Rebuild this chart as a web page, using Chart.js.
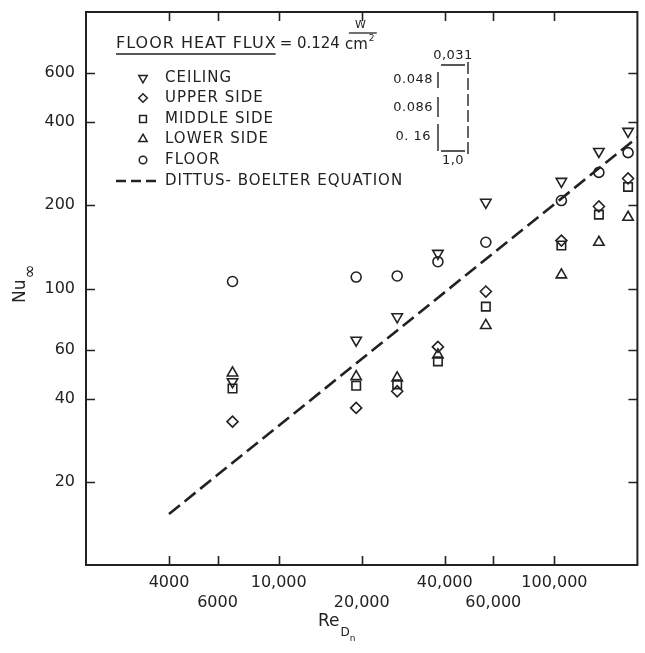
<!DOCTYPE html>
<html>
<head>
<meta charset="utf-8">
<script src="https://cdn.jsdelivr.net/npm/chart.js@4"></script>
<style>
  html, body { margin: 0; padding: 0; background: #ffffff; }
  #wrap { width: 645px; height: 653px; }
</style>
</head>
<body>
<div id="wrap"><canvas id="c" width="645" height="653"></canvas></div>
<script>
// ---- data ----
const reynolds = [6800, 19100, 26900, 37800, 56400, 106000, 145000, 185000];
const ceiling  = [46, 65, 79, 134, 205, 244, 313, 370];
const upperSide = [33, 37, 42.5, 61.5, 97.5, 149, 198, 250];
const middleSide = [43.5, 44.5, 45, 54.5, 86, 143, 185, 233];
const lowerSide = [49.5, 48, 47.5, 57.5, 73.5, 112, 147, 181];
const floorVals = [106, 110, 111, 125, 147, 208, 263, 310];
const dittusRe = [4000, 200000];
const dittusNu = [15.3, 352];

const xTicks = [4000, 6000, 10000, 20000, 40000, 60000, 100000];
const xTickLabels = ['4000', '6000', '10,000', '20,000', '40,000', '60,000', '100,000'];
const yTicks = [20, 40, 60, 100, 200, 400, 600];
const yTickLabels = ['20', '40', '60', '100', '200', '400', '600'];

const legendNames = ['CEILING', 'UPPER SIDE', 'MIDDLE SIDE', 'LOWER SIDE', 'FLOOR'];
const heatFluxTitle = 'FLOOR HEAT FLUX';
const heatFluxValue = '= 0.124';
const ratioLabels = ['0,031', '0.048', '0.086', '0. 16', '1,0'];

const INK = '#222';
const FONT = '"DejaVu Sans", "Liberation Sans", sans-serif';

function pts(ys) { return reynolds.map((r, i) => ({ x: r, y: ys[i] })); }

const styles = [
  { pointStyle: 'triangle', rotation: 180, radius: 6 },
  { pointStyle: 'rectRot', rotation: 0, radius: 5.5 },
  { pointStyle: 'rect', rotation: 0, radius: 6 },
  { pointStyle: 'triangle', rotation: 0, radius: 6 },
  { pointStyle: 'circle', rotation: 0, radius: 5 }
];
const seriesVals = [ceiling, upperSide, middleSide, lowerSide, floorVals];

const datasets = seriesVals.map((vals, i) => ({
  type: 'scatter',
  label: legendNames[i],
  data: pts(vals),
  pointStyle: styles[i].pointStyle,
  rotation: styles[i].rotation,
  pointRadius: styles[i].radius,
  pointBorderColor: INK,
  pointBackgroundColor: 'rgba(0,0,0,0)',
  pointBorderWidth: 1.6,
  showLine: false
}));
datasets.push({
  type: 'line',
  label: 'DITTUS-BOELTER EQUATION',
  data: dittusRe.map((r, i) => ({ x: r, y: dittusNu[i] })),
  borderColor: INK,
  borderWidth: 2.6,
  borderDash: [14, 6],
  pointRadius: 0,
  fill: false
});

function spaced(ctx, px) { try { ctx.letterSpacing = px; } catch (e) {} }

const decorPlugin = {
  id: 'decor',
  afterDraw(chart) {
    const ctx = chart.ctx;
    const a = chart.chartArea;
    const xs = chart.scales.x, ys = chart.scales.y;
    ctx.save();
    ctx.strokeStyle = INK;
    ctx.fillStyle = INK;
    // frame
    ctx.lineWidth = 2;
    ctx.strokeRect(a.left, a.top, a.right - a.left, a.bottom - a.top);
    // inward ticks
    ctx.lineWidth = 1.6;
    const TL = 9;
    xTicks.forEach(v => {
      const px = Math.round(xs.getPixelForValue(v)) + 0.5;
      ctx.beginPath();
      ctx.moveTo(px, a.bottom); ctx.lineTo(px, a.bottom - TL);
      ctx.moveTo(px, a.top); ctx.lineTo(px, a.top + TL);
      ctx.stroke();
    });
    yTicks.forEach(v => {
      const py = Math.round(ys.getPixelForValue(v)) + 0.5;
      ctx.beginPath();
      ctx.moveTo(a.left, py); ctx.lineTo(a.left + TL, py);
      ctx.moveTo(a.right, py); ctx.lineTo(a.right - TL, py);
      ctx.stroke();
    });

    // heat flux title
    ctx.textBaseline = 'middle';
    ctx.textAlign = 'left';
    spaced(ctx, '1px');
    ctx.font = '16px ' + FONT;
    const tx = 116, ty = 44;
    ctx.fillText(heatFluxTitle, tx, ty);
    const tw = ctx.measureText(heatFluxTitle).width - 1;
    ctx.lineWidth = 1.3;
    ctx.beginPath(); ctx.moveTo(tx, ty + 10); ctx.lineTo(tx + tw, ty + 10); ctx.stroke();
    spaced(ctx, '0px');
    ctx.font = '15px ' + FONT;
    ctx.fillText(heatFluxValue, tx + tw + 4, ty);
    const vw = ctx.measureText(heatFluxValue).width;
    const ux = tx + tw + 4 + vw + 5;
    ctx.fillText('cm', ux, ty + 1);
    const cmw = ctx.measureText('cm').width;
    ctx.font = '9px ' + FONT;
    ctx.fillText('2', ux + cmw + 1, ty - 5);
    ctx.font = '11px ' + FONT;
    ctx.textAlign = 'center';
    ctx.fillText('W', ux + cmw / 2 + 4, ty - 19);
    ctx.beginPath(); ctx.moveTo(ux + 4, ty - 11); ctx.lineTo(ux + cmw + 9, ty - 11); ctx.stroke();

    // legend entries
    const hp = Chart.helpers;
    const lx = 143, ltx = 165;
    const rows = [78, 98, 119, 139, 160];
    spaced(ctx, '1px');
    ctx.font = '15px ' + FONT;
    ctx.textAlign = 'left';
    rows.forEach((ry, i) => {
      ctx.strokeStyle = INK;
      ctx.fillStyle = 'rgba(0,0,0,0)';
      ctx.lineWidth = 1.5;
      hp.drawPoint(ctx, {
        pointStyle: styles[i].pointStyle,
        rotation: styles[i].rotation,
        radius: styles[i].radius - 1.2,
        borderWidth: 1.5
      }, lx, ry);
      ctx.fillStyle = INK;
      ctx.fillText(legendNames[i], ltx, ry);
    });
    const dy = 181;
    ctx.lineWidth = 2.4;
    ctx.setLineDash([10, 5]);
    ctx.beginPath(); ctx.moveTo(116, dy); ctx.lineTo(161, dy); ctx.stroke();
    ctx.setLineDash([]);
    ctx.fillText('DITTUS- BOELTER EQUATION', ltx, dy);

    // ratio bracket annotation
    ctx.font = '13px ' + FONT;
    spaced(ctx, '0.5px');
    ctx.textAlign = 'center';
    ctx.fillText(ratioLabels[0], 453, 56);
    ctx.fillText(ratioLabels[4], 453, 161);
    ctx.textAlign = 'right';
    ctx.fillText(ratioLabels[1], 433, 80);
    ctx.fillText(ratioLabels[2], 433, 108);
    ctx.fillText(ratioLabels[3], 431, 137);
    spaced(ctx, '0px');
    ctx.lineWidth = 1.4;
    ctx.beginPath();
    ctx.moveTo(441, 65); ctx.lineTo(465, 65);
    ctx.moveTo(441, 151); ctx.lineTo(465, 151);
    ctx.moveTo(438, 72); ctx.lineTo(438, 88);
    ctx.moveTo(438, 97); ctx.lineTo(438, 117);
    ctx.moveTo(438, 124); ctx.lineTo(438, 151);
    ctx.stroke();
    ctx.setLineDash([12, 4]);
    ctx.beginPath(); ctx.moveTo(468, 62); ctx.lineTo(468, 157); ctx.stroke();
    ctx.setLineDash([]);

    // axis titles
    ctx.fillStyle = INK;
    ctx.textAlign = 'left';
    ctx.textBaseline = 'middle';
    ctx.font = '17px ' + FONT;
    ctx.fillText('Re', 318, 622);
    const rew = ctx.measureText('Re').width;
    ctx.font = '12px ' + FONT;
    ctx.fillText('D', 318 + rew + 1, 633);
    const dw = ctx.measureText('D').width;
    ctx.font = '9px ' + FONT;
    ctx.fillText('n', 318 + rew + 1 + dw, 639);

    ctx.save();
    ctx.translate(21, 303);
    ctx.rotate(-Math.PI / 2);
    ctx.font = '17px ' + FONT;
    ctx.fillText('Nu', 0, 0);
    const nuw = ctx.measureText('Nu').width;
    ctx.font = '17px ' + FONT;
    ctx.fillText('\u221E', nuw + 1, 10);
    ctx.restore();

    ctx.restore();
  }
};

new Chart(document.getElementById('c'), {
  type: 'scatter',
  data: { datasets },
  options: {
    responsive: false,
    animation: false,
    devicePixelRatio: 1,
    layout: { padding: { top: 12, right: 4, left: 0, bottom: 0 } },
    plugins: { legend: { display: false }, tooltip: { enabled: false } },
    scales: {
      x: {
        type: 'logarithmic',
        position: 'bottom',
        min: 2000,
        max: 200000,
        border: { display: false },
        grid: { display: false, drawTicks: false },
        afterBuildTicks: s => { s.ticks = xTicks.map(v => ({ value: v })); },
        afterFit: s => { s.height = 88; s.paddingLeft = 0; s.paddingRight = 0; },
        ticks: {
          autoSkip: false,
          maxRotation: 0,
          padding: 7,
          color: INK,
          font: { family: FONT, size: 16, lineHeight: 1.3 },
          callback: (v, i) => {
            const k = xTicks.indexOf(v);
            const lab = k >= 0 ? xTickLabels[k] : '';
            return k % 2 === 0 ? [lab] : ['', lab];
          }
        }
      },
      y: {
        type: 'logarithmic',
        position: 'left',
        min: 10,
        max: 1000,
        border: { display: false },
        grid: { display: false, drawTicks: false },
        afterBuildTicks: s => { s.ticks = yTicks.map(v => ({ value: v })); },
        afterFit: s => { s.width = 86; s.paddingTop = 0; s.paddingBottom = 0; },
        ticks: {
          autoSkip: false,
          padding: 11,
          color: INK,
          font: { family: FONT, size: 16 },
          callback: v => {
            const k = yTicks.indexOf(v);
            return k >= 0 ? yTickLabels[k] : '';
          }
        }
      }
    }
  },
  plugins: [decorPlugin]
});
</script>
</body>
</html>
